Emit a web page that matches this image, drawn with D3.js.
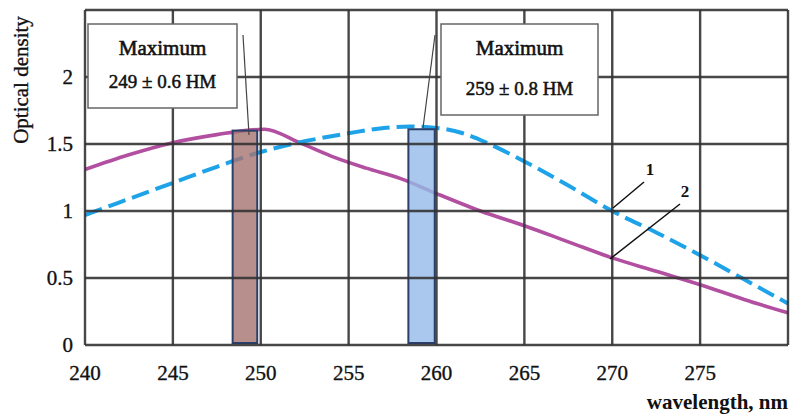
<!DOCTYPE html>
<html>
<head>
<meta charset="utf-8">
<script src="https://cdn.jsdelivr.net/npm/d3@7"></script>
<style>
  body { margin: 0; background: #fff; }
  text { font-family: "Liberation Serif", "Times New Roman", serif; fill: #111; stroke: #111; stroke-width: 0.35px; }
</style>
</head>
<body>
<div id="chart"></div>
<script>
// curve 1 (blue dashed)
var wave1 = [240, 242.5, 245, 247.5, 250, 252.5, 255, 257, 258.5, 260, 261.5, 263, 265, 267.5, 270, 272.5, 275, 277.5, 280];
var density1 = [0.97, 1.09, 1.21, 1.33, 1.44, 1.52, 1.58, 1.62, 1.63, 1.62, 1.58, 1.50, 1.37, 1.19, 1.00, 0.84, 0.67, 0.49, 0.31];

// curve 2 (magenta)
var wave2 = [240, 242.5, 245, 247.5, 250.2, 252.2, 254, 256, 258, 260, 262.5, 265, 267.5, 270, 272.5, 275, 277.5, 280];
var density2 = [1.31, 1.42, 1.51, 1.57, 1.61, 1.51, 1.41, 1.32, 1.24, 1.13, 1.00, 0.89, 0.77, 0.65, 0.55, 0.45, 0.34, 0.24];

// maxima bands
var bandLabels = ["249 ± 0.6 HM", "259 ± 0.8 HM"];
var bandLow = [248.4, 258.4];
var bandHigh = [249.8, 259.9];
var bandTop = [1.60, 1.61];

var xTicks = [240, 245, 250, 255, 260, 265, 270, 275];
var yTicks = [0, 0.5, 1, 1.5, 2];
var xGrid = [240, 245, 250, 255, 260, 265, 270, 275, 280];
var yGrid = [0, 0.5, 1, 1.5, 2, 2.5];

var width = 794, height = 415;
var margin = {top: 10, right: 6, bottom: 70, left: 85};

var x = d3.scaleLinear().domain([240, 280]).range([margin.left, width - margin.right]);
var y = d3.scaleLinear().domain([0, 2.5]).range([height - margin.bottom, margin.top]);

var svg = d3.select("#chart").append("svg")
    .attr("width", width)
    .attr("height", height);

var line = d3.line()
    .x(function(d) { return x(d[0]); })
    .y(function(d) { return y(d[1]); })
    .curve(d3.curveMonotoneX);

var s1 = wave1.map(function(w, i) { return [w, density1[i]]; });
var s2 = wave2.map(function(w, i) { return [w, density2[i]]; });

// curves
svg.append("path")
    .attr("d", line(s2))
    .attr("fill", "none")
    .attr("stroke", "#b24fa0")
    .attr("stroke-width", 3.6);

svg.append("path")
    .attr("d", line(s1))
    .attr("fill", "none")
    .attr("stroke", "#1ea2e8")
    .attr("stroke-width", 4)
    .attr("stroke-dasharray", "18,7");

// bands
var bandFill = ["#a57472", "#95bae9"];
svg.selectAll(".band")
    .data(bandLabels)
    .enter().append("rect")
    .attr("class", "band")
    .attr("x", function(d, i) { return x(bandLow[i]); })
    .attr("y", function(d, i) { return y(bandTop[i]); })
    .attr("width", function(d, i) { return x(bandHigh[i]) - x(bandLow[i]); })
    .attr("height", function(d, i) { return y(0) - y(bandTop[i]) - 2; })
    .attr("fill", function(d, i) { return bandFill[i]; })
    .attr("fill-opacity", 0.8)
    .attr("stroke", "#2b3f6b")
    .attr("stroke-width", 2);

// grid
var grid = svg.append("g").attr("class", "grid");
grid.selectAll(".vx")
    .data(xGrid)
    .enter().append("line")
    .attr("x1", function(d) { return x(d); })
    .attr("x2", function(d) { return x(d); })
    .attr("y1", y(0))
    .attr("y2", y(2.5))
    .attr("stroke", "#333")
    .attr("stroke-opacity", 0.9)
    .attr("stroke-width", 2.4);
grid.selectAll(".hy")
    .data(yGrid)
    .enter().append("line")
    .attr("x1", x(240))
    .attr("x2", x(280))
    .attr("y1", function(d) { return y(d); })
    .attr("y2", function(d) { return y(d); })
    .attr("stroke", "#333")
    .attr("stroke-opacity", 0.9)
    .attr("stroke-width", 2.4);

// tick labels
svg.selectAll(".xt")
    .data(xTicks)
    .enter().append("text")
    .attr("x", function(d) { return x(d); })
    .attr("y", 380)
    .attr("text-anchor", "middle")
    .style("font-size", "21px")
    .text(function(d) { return d; });

svg.selectAll(".yt")
    .data(yTicks)
    .enter().append("text")
    .attr("x", 73)
    .attr("y", function(d) { return y(d); })
    .attr("dy", "0.35em")
    .attr("text-anchor", "end")
    .style("font-size", "21px")
    .text(function(d) { return d; });

// axis titles
svg.append("text")
    .attr("transform", "translate(28,80) rotate(-90)")
    .attr("text-anchor", "middle")
    .style("font-size", "21px")
    .text("Optical density");

svg.append("text")
    .attr("x", x(280))
    .attr("y", 409)
    .attr("text-anchor", "end")
    .style("font-size", "21px")
    .style("font-weight", "bold")
    .style("stroke-width", "0")
    .text("wavelength, nm");

// annotation boxes with leader lines
var boxes = [
  {x: 88, y: 24, w: 149, h: 84, ty1: 55, ty2: 88, lead: [243, 35, 249, 135]},
  {x: 441, y: 24, w: 157, h: 91, ty1: 55, ty2: 95, lead: [435, 35, 423, 128]}
];
boxes.forEach(function(b, i) {
  svg.append("line")
    .attr("x1", b.lead[0]).attr("y1", b.lead[1])
    .attr("x2", b.lead[2]).attr("y2", b.lead[3])
    .attr("stroke", "#444")
    .attr("stroke-width", 1.2);
  svg.append("rect")
    .attr("x", b.x).attr("y", b.y)
    .attr("width", b.w).attr("height", b.h)
    .attr("fill", "#fff")
    .attr("stroke", "#666")
    .attr("stroke-width", 1.5);
  svg.append("text")
    .attr("x", b.x + b.w / 2)
    .attr("y", b.ty1)
    .attr("text-anchor", "middle")
    .style("font-size", "21px")
    .style("stroke-width", "0.6px")
    .text("Maximum");
  svg.append("text")
    .attr("x", b.x + b.w / 2)
    .attr("y", b.ty2)
    .attr("text-anchor", "middle")
    .style("font-size", "19px")
    .style("stroke-width", "0.5px")
    .text(bandLabels[i]);
});

// curve numbers
var curveTags = [
  {t: "1", x: 650, y: 175, lead: [644, 182, 613, 208]},
  {t: "2", x: 685, y: 197, lead: [680, 204, 610, 259]}
];
curveTags.forEach(function(c) {
  svg.append("line")
    .attr("x1", c.lead[0]).attr("y1", c.lead[1])
    .attr("x2", c.lead[2]).attr("y2", c.lead[3])
    .attr("stroke", "#111")
    .attr("stroke-width", 1.5);
  svg.append("text")
    .attr("x", c.x)
    .attr("y", c.y)
    .attr("text-anchor", "middle")
    .style("font-size", "17px")
    .style("font-weight", "bold")
    .style("stroke-width", "0")
    .text(c.t);
});
</script>
</body>
</html>
